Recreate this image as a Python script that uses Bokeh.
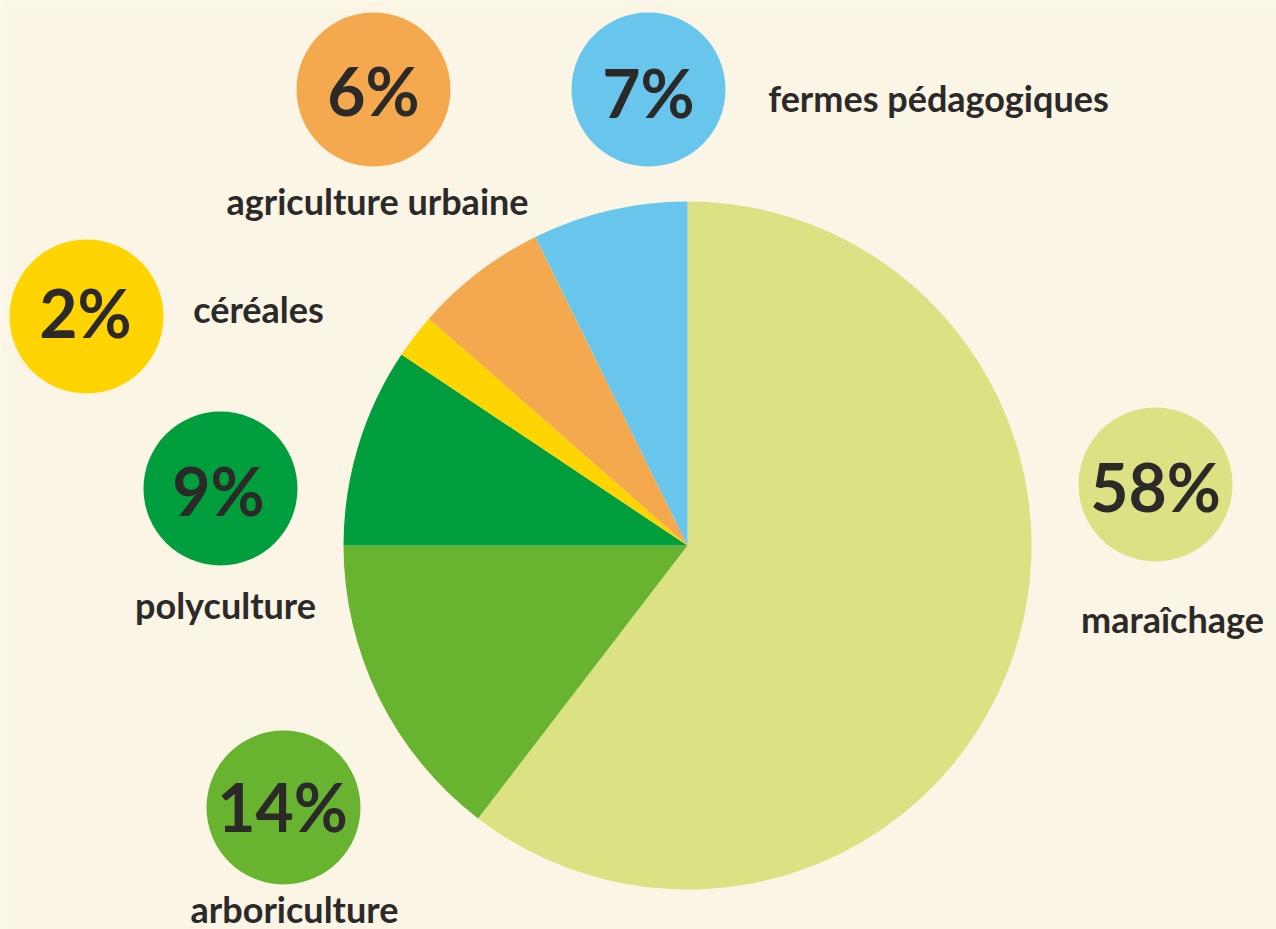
import numpy as np
from bokeh.plotting import figure
from bokeh.models import ColumnDataSource, Range1d
from bokeh.core.properties import value
from bokeh.embed import file_html
from bokeh.resources import INLINE

# ---- data ----
categories = ["maraîchage", "arboriculture", "polyculture", "céréales",
              "agriculture urbaine", "fermes pédagogiques"]
values = [58, 14, 9, 2, 6, 7]
colors = ["#DCE183", "#68B32F", "#009E3D", "#FFD400", "#F5A94E", "#68C5EC"]
pct_labels = [f"{v}%" for v in values]

# ---- layout (reference pixel coordinates, y measured from top) ----
W, H = 1276, 929
pie_cx, pie_cy, pie_r = 687, 545, 344
bubble_x = [1155, 283, 220, 86, 373, 648]
bubble_y = [484, 807, 488, 316, 89, 89]
bubble_r = 77
pct_x = [1155, 282, 218, 85, 373, 648]
pct_y = [486, 806, 490, 312, 90, 92]
lab_x = [1172, 294, 225, 258, 377, 938]
lab_y = [618, 908, 604, 308, 200, 97]

BG = "#FBF5E5"
INK = "#2B2A29"

def fy(y):
    return [H - v for v in y] if isinstance(y, list) else H - y

p = figure(width=W, height=H, x_range=Range1d(0, W), y_range=Range1d(0, H),
           output_backend="svg", toolbar_location=None, min_border=0,
           x_axis_location=None, y_axis_location=None)
p.background_fill_color = BG
p.border_fill_color = BG
p.outline_line_color = None
p.xgrid.visible = False
p.ygrid.visible = False

# pie wedges, clockwise from 12 o'clock
vals = np.array(values, dtype=float)
frac = vals / vals.sum()
cum = np.concatenate([[0], np.cumsum(frac)])
start = np.pi / 2 - 2 * np.pi * cum[:-1]
end = np.pi / 2 - 2 * np.pi * cum[1:]
src = ColumnDataSource(dict(cat=categories, start=start, end=end, color=colors))
p.wedge(x=pie_cx, y=fy(pie_cy), radius=pie_r, start_angle="start", end_angle="end",
        direction="clock", fill_color="color", line_color=None, source=src)

# bubbles with percentages
bsrc = ColumnDataSource(dict(x=bubble_x, y=fy(bubble_y), color=colors))
p.circle(x="x", y="y", radius=bubble_r, fill_color="color", line_color=None, source=bsrc)

psrc = ColumnDataSource(dict(x=pct_x, y=fy(pct_y), t=pct_labels))
p.text(x="x", y="y", text="t", source=psrc, text_align="center", text_baseline="middle",
       text_font=value("Lato"), text_font_style="bold", text_font_size="66px",
       text_color=INK)

lsrc = ColumnDataSource(dict(x=lab_x, y=fy(lab_y), t=categories))
p.text(x="x", y="y", text="t", source=lsrc, text_align="center", text_baseline="middle",
       text_font=value("Lato"), text_font_style="bold", text_font_size="36px",
       text_color=INK)

open("out.html", "w").write(file_html(p, INLINE))
